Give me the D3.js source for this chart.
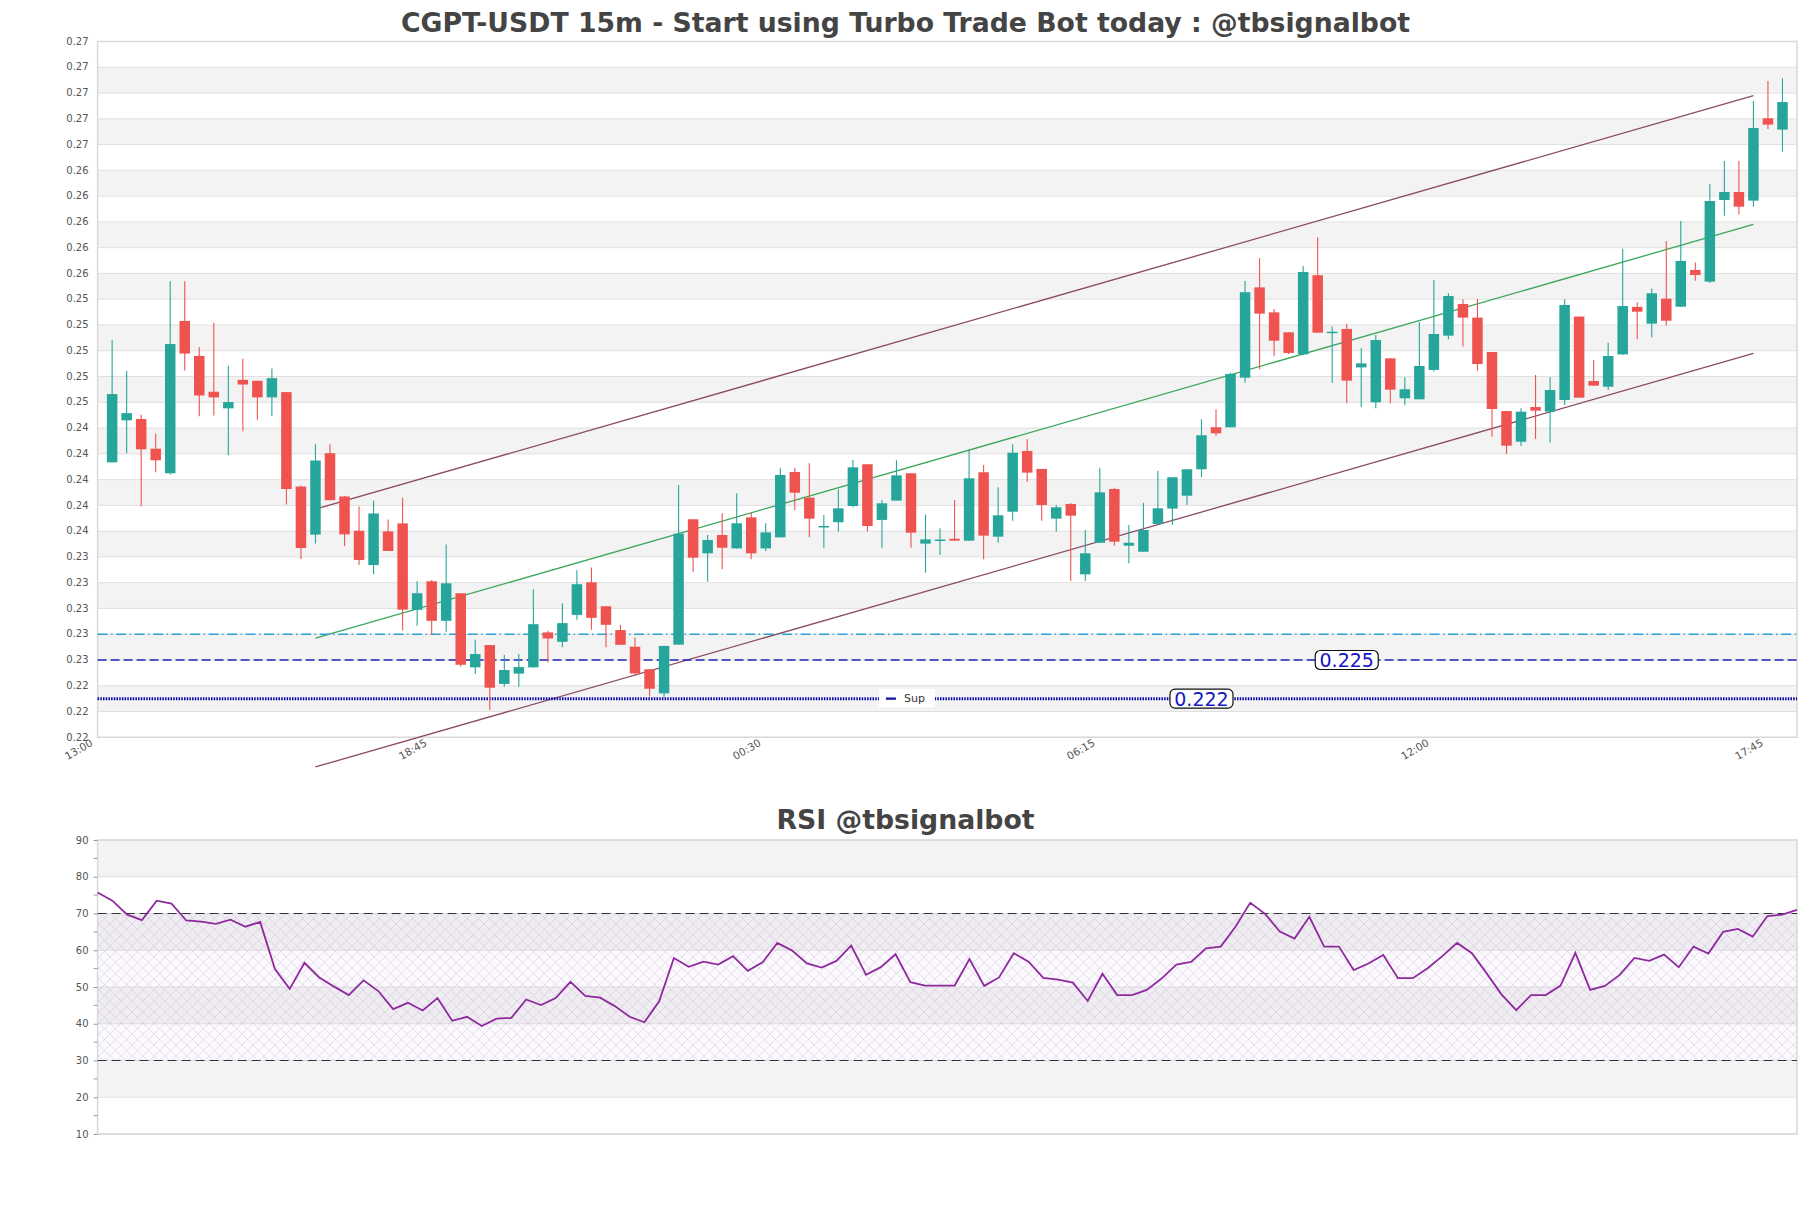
<!DOCTYPE html>
<html>
<head>
<meta charset="utf-8">
<script src="https://cdn.jsdelivr.net/npm/d3@7"></script>
<style>
body { margin: 0; background: #fff; }
svg text { font-family: "DejaVu Sans", sans-serif; }
</style>
</head>
<body>
<div id="chart"></div>
<script>
// 15m candles, index 1..116 (13:15 -> 18:00 next day)
var open = [0.24034,0.2436,0.2437,0.2414,0.23949,0.25131,0.2486,0.24582,0.24453,0.24674,
  0.24667,0.24538,0.24579,0.23846,0.23473,0.24105,0.23769,0.23503,0.23237,0.23498,
  0.2356,0.22889,0.23111,0.22804,0.23018,0.22443,0.22616,0.22314,0.22394,0.22443,
  0.22714,0.22641,0.2285,0.23103,0.22917,0.22732,0.22603,0.22428,0.22241,0.22619,
  0.23592,0.23328,0.2347,0.23366,0.23607,0.23366,0.23452,0.23959,0.2376,0.23536,
  0.23569,0.23695,0.24019,0.23587,0.23737,0.23949,0.23403,0.2343,0.23441,0.23426,
  0.23957,0.23457,0.23651,0.24122,0.23983,0.23597,0.23711,0.23165,0.2341,0.23827,
  0.23387,0.2334,0.23555,0.23675,0.23775,0.2398,0.24306,0.24306,0.24691,0.25392,
  0.25198,0.25043,0.24872,0.25486,0.2504,0.25069,0.24771,0.245,0.24841,0.24531,
  0.24523,0.24751,0.25017,0.25263,0.25157,0.2489,0.24432,0.24194,0.24463,0.24427,
  0.24518,0.25165,0.24665,0.24621,0.24872,0.2524,0.2511,0.25304,0.25242,0.25527,
  0.25436,0.2607,0.26132,0.26065,0.26704,0.26616];
var high = [0.24983,0.24744,0.24404,0.24256,0.2544,0.2544,0.24927,0.25118,0.24783,0.24837,
  0.24667,0.24762,0.2458,0.23854,0.24175,0.24175,0.23774,0.23691,0.23738,0.23591,
  0.23759,0.23111,0.23119,0.23397,0.23018,0.22657,0.22616,0.22538,0.22546,0.23049,
  0.22727,0.22941,0.23196,0.23217,0.22917,0.22773,0.22675,0.2243,0.2261,0.23858,
  0.23592,0.2347,0.23638,0.23794,0.23643,0.23561,0.23988,0.23992,0.24027,0.23625,
  0.23825,0.24052,0.2402,0.23742,0.2405,0.23949,0.23629,0.23522,0.23742,0.24135,
  0.24014,0.2384,0.24174,0.24213,0.23983,0.23703,0.23716,0.23509,0.23988,0.23837,
  0.23548,0.23721,0.23969,0.23918,0.2398,0.24368,0.24445,0.2473,0.25441,0.25618,
  0.25224,0.25043,0.25558,0.2578,0.25087,0.2511,0.24919,0.25022,0.24841,0.24694,
  0.25123,0.25449,0.25346,0.25299,0.25302,0.2489,0.24432,0.24453,0.24712,0.24694,
  0.25299,0.25165,0.24828,0.24963,0.2569,0.25276,0.25384,0.25752,0.25907,0.25584,
  0.26194,0.26373,0.26373,0.26838,0.26993,0.27014];
var low = [0.24034,0.24104,0.23694,0.23957,0.23939,0.24747,0.24391,0.24398,0.24089,0.24275,
  0.24365,0.24391,0.23707,0.23284,0.23404,0.2374,0.23384,0.23237,0.23165,0.23346,
  0.22728,0.22765,0.22693,0.22719,0.2245,0.22391,0.22112,0.22293,0.22293,0.2244,
  0.22481,0.22598,0.22812,0.22734,0.22598,0.22618,0.22378,0.22215,0.22215,0.2262,
  0.23185,0.23108,0.23204,0.23366,0.23281,0.23346,0.23452,0.23664,0.23452,0.23371,
  0.23496,0.23685,0.23496,0.23371,0.23737,0.23371,0.23177,0.23315,0.23426,0.23426,
  0.23281,0.2341,0.23581,0.23884,0.23581,0.23496,0.23113,0.23113,0.2341,0.23387,
  0.2325,0.2334,0.23555,0.23548,0.23703,0.23918,0.24241,0.24306,0.24652,0.24756,
  0.24862,0.24875,0.24865,0.2504,0.24652,0.24492,0.24461,0.24453,0.24492,0.24477,
  0.24523,0.24738,0.24989,0.24932,0.24745,0.24233,0.24099,0.24161,0.24215,0.24187,
  0.24479,0.24536,0.24629,0.24595,0.24867,0.24989,0.25004,0.25095,0.25242,0.25444,
  0.25425,0.25948,0.25959,0.26018,0.26621,0.26445];
var close = [0.24564,0.24416,0.24135,0.2405,0.24952,0.24878,0.24553,0.24538,0.24502,0.24638,
  0.24538,0.24687,0.23827,0.23369,0.24048,0.2374,0.23475,0.23276,0.23637,0.23346,
  0.22891,0.23018,0.22804,0.23095,0.22463,0.22546,0.22285,0.22422,0.22445,0.22778,
  0.22667,0.22786,0.23088,0.22827,0.22773,0.22618,0.22396,0.22277,0.22609,0.2348,
  0.23294,0.23431,0.23371,0.23561,0.23328,0.2349,0.23936,0.23798,0.23597,0.2354,
  0.23677,0.23995,0.2354,0.23716,0.23933,0.23488,0.23436,0.23435,0.23426,0.2391,
  0.23465,0.23623,0.24109,0.23954,0.23703,0.23685,0.2362,0.23328,0.23801,0.23418,
  0.2341,0.23509,0.23677,0.23918,0.2398,0.24244,0.24259,0.2472,0.25354,0.25188,
  0.24978,0.24883,0.25511,0.2504,0.25048,0.24668,0.24802,0.24983,0.24598,0.24601,
  0.24782,0.2503,0.25325,0.25157,0.24797,0.24448,0.24163,0.24427,0.24435,0.24595,
  0.25255,0.24536,0.24629,0.24859,0.25247,0.25203,0.25346,0.25133,0.25597,0.25488,
  0.26062,0.26132,0.26018,0.26629,0.26655,0.2683];

var rsi = [75.7,73.5,69.7,68.2,73.5,72.7,68.1,67.8,67.2,68.3,
  66.4,67.7,54.9,49.5,56.6,52.6,50.1,47.8,51.8,48.9,
  44.0,45.7,43.6,47.0,40.8,41.9,39.4,41.4,41.6,46.6,
  45.1,47.0,51.4,47.6,47.1,44.8,41.9,40.4,46.1,57.9,
  55.5,56.9,56.1,58.4,54.4,56.7,62.0,59.9,56.4,55.3,
  57.1,61.3,53.3,55.4,58.9,51.3,50.4,50.4,50.4,57.6,
  50.3,52.6,59.2,56.9,52.5,52.0,51.2,46.2,53.6,47.8,
  47.8,49.2,52.3,56.1,56.8,60.5,61.0,66.4,72.9,69.9,
  65.1,63.2,69.1,61.0,61.0,54.6,56.4,58.7,52.4,52.4,
  55.1,58.4,62.0,59.2,53.7,48.0,43.7,47.8,47.8,50.4,
  59.3,49.2,50.3,53.3,57.9,57.1,58.8,55.4,61.0,59.1,
  65.0,65.8,63.7,69.3,69.7,71.0];

var xTickIndex = [0, 23, 46, 69, 92, 115];
var xTickLabels = ["13:00", "18:45", "00:30", "06:15", "12:00", "17:45"];

var yTickValues = [0.219,0.221,0.223,0.225,0.227,0.229,0.231,0.233,0.235,0.237,
  0.239,0.241,0.243,0.245,0.247,0.249,0.251,0.253,0.255,0.257,
  0.259,0.261,0.263,0.265,0.267,0.269,0.271,0.273];
var yTickLabels = ["0.22","0.22","0.22","0.23","0.23","0.23","0.23","0.23","0.24","0.24",
  "0.24","0.24","0.24","0.25","0.25","0.25","0.25","0.25","0.26","0.26",
  "0.26","0.26","0.26","0.27","0.27","0.27","0.27","0.27"];
var rsiTicks = [10, 20, 30, 40, 50, 60, 70, 80, 90];
var rsiMinorTicks = [15, 25, 35, 45, 55, 65, 75, 85];

// channel lines [candle index, price]
var channelUpper = [[15, 0.2367], [114, 0.2688]];
var channelMid = [[15, 0.2267], [114, 0.2588]];
var channelLower = [[15, 0.2167], [114, 0.2488]];

var levelCyan = 0.227;
var levelDash = 0.225;
var levelSup = 0.222;

var W = 1811, H = 1208;
var left = 97.6, right = 1797;

var svg = d3.select("#chart").append("svg")
  .attr("width", W).attr("height", H);

var defs = svg.append("defs");
var pat = defs.append("pattern")
  .attr("id", "hatch").attr("patternUnits", "userSpaceOnUse")
  .attr("width", 11).attr("height", 11);
pat.append("path").attr("d", "M0,0 L11,11 M11,0 L0,11")
  .attr("stroke", "#b8a8c8").attr("stroke-width", 0.6).attr("stroke-opacity", 0.55);

// ---------- main chart ----------
var x = d3.scaleLinear().domain([0, 117]).range([left, right]);
var y = d3.scaleLinear().domain([0.219, 0.273]).range([737.3, 41.5]);

svg.append("text")
  .attr("x", W / 2).attr("y", 32)
  .attr("text-anchor", "middle")
  .style("font-size", "26.7px").style("font-weight", "bold")
  .style("fill", "#444")
  .text("CGPT-USDT 15m - Start using Turbo Trade Bot today : @tbsignalbot");

var main = svg.append("g");

// alternating bands
main.selectAll("rect.band")
  .data(yTickValues.slice(0, -1))
  .enter().append("rect")
  .attr("class", "band")
  .attr("x", left).attr("width", right - left)
  .attr("y", function(d, k) { return y(yTickValues[k + 1]); })
  .attr("height", function(d, k) { return y(d) - y(yTickValues[k + 1]); })
  .style("fill", function(d, k) { return k % 2 ? "#f3f3f3" : "#fff"; });

main.selectAll("line.grid")
  .data(yTickValues)
  .enter().append("line")
  .attr("x1", left).attr("x2", right)
  .attr("y1", function(d) { return y(d); }).attr("y2", function(d) { return y(d); })
  .style("stroke", "#e0e0e0").style("stroke-width", 1);

main.append("rect")
  .attr("x", left).attr("y", 41.5).attr("width", right - left).attr("height", 737.3 - 41.5)
  .style("fill", "none").style("stroke", "#d9d9d9").style("stroke-width", 1.5);

main.selectAll("text.ylab")
  .data(yTickValues)
  .enter().append("text")
  .attr("x", left - 9).attr("y", function(d) { return y(d); })
  .attr("dy", "0.32em").attr("text-anchor", "end")
  .style("font-size", "10px").style("fill", "#555")
  .text(function(d, k) { return yTickLabels[k]; });

main.selectAll("text.xlab")
  .data(xTickIndex)
  .enter().append("text")
  .attr("transform", function(d) { return "translate(" + (x(d) - 4) + ",745) rotate(-30)"; })
  .attr("text-anchor", "end")
  .style("font-size", "10.5px").style("fill", "#555")
  .text(function(d, k) { return xTickLabels[k]; });

// channel
var seg = d3.line().x(function(d) { return x(d[0]); }).y(function(d) { return y(d[1]); });
main.append("path").attr("d", seg(channelUpper))
  .style("fill", "none").style("stroke", "#8b4a64").style("stroke-width", 1.3);
main.append("path").attr("d", seg(channelLower))
  .style("fill", "none").style("stroke", "#8b4a64").style("stroke-width", 1.3);
main.append("path").attr("d", seg(channelMid))
  .style("fill", "none").style("stroke", "#3aa65a").style("stroke-width", 1.3);

// horizontal levels
main.append("line")
  .attr("x1", left).attr("x2", right).attr("y1", y(levelCyan)).attr("y2", y(levelCyan))
  .style("stroke", "#2aa3d8").style("stroke-width", 1.4).style("stroke-dasharray", "10,3.5,1.5,3.5");
main.append("line")
  .attr("x1", left).attr("x2", right).attr("y1", y(levelDash)).attr("y2", y(levelDash))
  .style("stroke", "#2222b8").style("stroke-width", 1.4).style("stroke-dasharray", "9,4");
main.append("line")
  .attr("x1", left).attr("x2", right).attr("y1", y(levelSup)).attr("y2", y(levelSup))
  .style("stroke", "#0808a8").style("stroke-width", 3).style("stroke-dasharray", "1.5,1.2");

// candles
var candles = d3.range(open.length).map(function(k) {
  return { i: k + 1, o: open[k], h: high[k], l: low[k], c: close[k] };
});
var bw = 10.5;
var col = function(d) { return d.c >= d.o ? "#26a69a" : "#ef5350"; };

var cg = main.selectAll("g.candle").data(candles).enter().append("g");
cg.append("line")
  .attr("x1", function(d) { return x(d.i); }).attr("x2", function(d) { return x(d.i); })
  .attr("y1", function(d) { return y(d.h); }).attr("y2", function(d) { return y(d.l); })
  .style("stroke", col).style("stroke-width", 1.1);
cg.append("rect")
  .attr("x", function(d) { return x(d.i) - bw / 2; })
  .attr("width", bw)
  .attr("y", function(d) { return y(Math.max(d.o, d.c)); })
  .attr("height", function(d) { return Math.max(1.5, Math.abs(y(d.o) - y(d.c))); })
  .style("fill", col);

// level labels
function levelLabel(at, v, txt) {
  var cx = x(at), cy = y(v);
  main.append("rect")
    .attr("x", cx - 31.5).attr("y", cy - 9.5).attr("width", 63).attr("height", 19)
    .attr("rx", 5).style("fill", "#fff").style("stroke", "#111").style("stroke-width", 1.2);
  main.append("text")
    .attr("x", cx).attr("y", cy).attr("dy", "0.37em").attr("text-anchor", "middle")
    .style("font-size", "19px").style("fill", "#1616c4")
    .text(txt);
}
levelLabel(86, levelDash, "0.225");
levelLabel(76, levelSup, "0.222");

// legend
var lg = main.append("g").attr("transform", "translate(" + (x(54) - 3) + "," + (y(levelSup) - 9.5) + ")");
lg.append("rect").attr("width", 56).attr("height", 18).style("fill", "#fff");
lg.append("line").attr("x1", 7).attr("x2", 17).attr("y1", 9.5).attr("y2", 9.5)
  .style("stroke", "#1a1aa0").style("stroke-width", 2.4);
lg.append("text").attr("x", 25).attr("y", 9.5).attr("dy", "0.35em")
  .style("font-size", "11px").style("fill", "#333").text("Sup");

// ---------- RSI ----------
var rx = d3.scaleLinear().domain([1, rsi.length]).range([left, right]);
var ry = d3.scaleLinear().domain([10, 90]).range([1134, 840]);

svg.append("text")
  .attr("x", W / 2).attr("y", 829)
  .attr("text-anchor", "middle")
  .style("font-size", "26.7px").style("font-weight", "bold")
  .style("fill", "#444")
  .text("RSI @tbsignalbot");

var rg = svg.append("g");
rg.selectAll("rect.band")
  .data(rsiTicks.slice(0, -1))
  .enter().append("rect")
  .attr("x", left).attr("width", right - left)
  .attr("y", function(d) { return ry(d + 10); })
  .attr("height", function(d) { return ry(d) - ry(d + 10); })
  .style("fill", function(d, k) { return k % 2 ? "#f3f3f3" : "#fff"; });

rg.selectAll("line.grid")
  .data(rsiTicks)
  .enter().append("line")
  .attr("x1", left).attr("x2", right)
  .attr("y1", function(d) { return ry(d); }).attr("y2", function(d) { return ry(d); })
  .style("stroke", "#e0e0e0").style("stroke-width", 1);

rg.append("rect")
  .attr("x", left).attr("width", right - left)
  .attr("y", ry(70)).attr("height", ry(30) - ry(70))
  .style("fill", "#c8a8dc").style("fill-opacity", 0.07);
rg.append("rect")
  .attr("x", left).attr("width", right - left)
  .attr("y", ry(70)).attr("height", ry(30) - ry(70))
  .style("fill", "url(#hatch)");

rg.append("rect")
  .attr("x", left).attr("y", 840).attr("width", right - left).attr("height", 1134 - 840)
  .style("fill", "none").style("stroke", "#d9d9d9").style("stroke-width", 1.5);

[70, 30].forEach(function(v) {
  rg.append("line")
    .attr("x1", left).attr("x2", right).attr("y1", ry(v)).attr("y2", ry(v))
    .style("stroke", "#333").style("stroke-width", 1.2).style("stroke-dasharray", "9,5");
});

rg.append("path")
  .datum(rsi)
  .attr("d", d3.line().x(function(d, k) { return rx(k + 1); }).y(function(d) { return ry(d); }))
  .style("fill", "none").style("stroke", "#8e2a9e").style("stroke-width", 1.8);

var ax = rg.append("g").attr("transform", "translate(" + left + ",0)")
  .call(d3.axisLeft(ry).tickValues(rsiTicks).tickSize(4).tickPadding(5));
ax.select(".domain").remove();
ax.selectAll("line").style("stroke", "#999");
ax.selectAll("text").style("font-size", "10px").style("fill", "#555")
  .style("font-family", "DejaVu Sans, sans-serif");
rg.selectAll("line.minor")
  .data(rsiMinorTicks)
  .enter().append("line")
  .attr("x1", left - 4).attr("x2", left)
  .attr("y1", function(d) { return ry(d); }).attr("y2", function(d) { return ry(d); })
  .style("stroke", "#999");
</script>
</body>
</html>
